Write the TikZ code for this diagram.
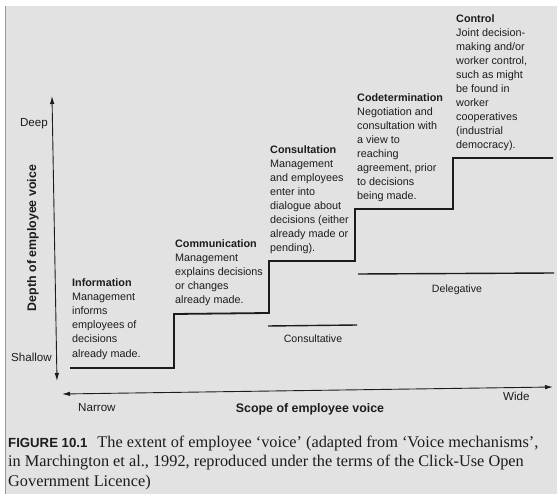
\documentclass[tikz,border=0pt]{standalone}
\usepackage{fontspec}
\setmainfont{Liberation Sans}
\newfontfamily\capserif{Liberation Serif}
\usepackage{tikz}
\usetikzlibrary{arrows.meta}
\usepackage{xcolor}
\definecolor{scangrey}{RGB}{226,226,226}
\definecolor{inkblack}{RGB}{28,28,28}

\begin{document}
\begin{tikzpicture}[x=1pt, y=-1pt, >={Latex[length=8pt,width=4.5pt]},
        blurb/.style={anchor=base west, align=left, inner sep=0pt, text=inkblack, font=\fontsize{10.8}{14.1}\selectfont},
        tag/.style={inner sep=0pt, text=inkblack, font=\fontsize{11.6}{14}\selectfont},
        axistitle/.style={inner sep=0pt, text=inkblack, font=\bfseries\fontsize{12.4}{14}\selectfont}]
        \useasboundingbox (0,0) rectangle (557,494);
        \fill[scangrey] (5,6) rectangle (557,494);
        \draw[black!40, line width=0.8pt] (5,6) -- (5,494);
        % axes
        \coordinate (deep) at (52,96);
        \coordinate (shallow) at (57,381);
        \coordinate (narrow) at (62,394);
        \coordinate (wide) at (553,387);
        \draw[<->, inkblack, line width=0.9pt] (deep) -- (shallow);
        \draw[<->, inkblack, line width=0.9pt] (narrow) -- (wide);
        \node[tag, anchor=base east] (DeepLabel) at (48,127) {Deep};
        \node[tag, anchor=base east] (ShallowLabel) at (52,361) {Shallow};
        \node[tag, anchor=base west] (NarrowLabel) at (78,411) {Narrow};
        \node[tag, anchor=base west] (WideLabel) at (503,400) {Wide};
        \node[axistitle, rotate=90] (DepthTitle) at (33,238) {Depth of employee voice};
        \node[axistitle, anchor=base] (ScopeTitle) at (310,412) {Scope of employee voice};
        % staircase
        \foreach \n/\x/\y in {0/70/368, 1/174/368, 2/174/314, 3/269/313, 4/269/261,
                5/355/261, 6/355/209, 7/453/209, 8/453/158, 9/553/158}{
        \coordinate (s\n) at (\x,\y);}
        \draw[inkblack, line width=1.8pt, line join=miter] (s0) -- (s1) -- (s2) -- (s3) -- (s4)
                -- (s5) -- (s6) -- (s7) -- (s8) -- (s9);
        % levels of voice (base = last line)
        \node[blurb] (Information) at (72,357) {\textbf{Information}\\Management\\informs\\employees of\\decisions\\already made.};
        \node[blurb] (Communication) at (175,304) {\textbf{Communication}\\Management\\explains decisions\\or changes\\already made.};
        \node[blurb] (Consultation) at (270,252) {\textbf{Consultation}\\Management\\and employees\\enter into\\dialogue about\\decisions (either\\already made or\\pending).};
        \node[blurb] (Codetermination) at (357,200) {\textbf{Codetermination}\\Negotiation and\\consultation with\\a view to\\reaching\\agreement, prior\\to decisions\\being made.};
        \node[blurb] (Control) at (456,149) {\textbf{Control}\\Joint decision-\\making and/or\\worker control,\\such as might\\be found in\\worker\\cooperatives\\(industrial\\democracy).};
        % consultative / delegative
        \coordinate (c0) at (268,326);
        \coordinate (c1) at (357,325);
        \coordinate (d0) at (358,274);
        \coordinate (d1) at (554,273);
        \draw[inkblack, line width=1.4pt] (c0) -- (c1);
        \draw[inkblack, line width=1.4pt] (d0) -- (d1);
        \node[tag, anchor=base, font=\fontsize{10.6}{13}\selectfont] (Consultative) at (313,342) {Consultative};
        \node[tag, anchor=base, font=\fontsize{10.6}{13}\selectfont] (Delegative) at (457,293) {Delegative};
        % caption
        \node[anchor=base west, align=left, inner sep=0pt, text=inkblack, font=\capserif\fontsize{16.3}{19.5}\selectfont] (Caption) at (8,486)
                {{\rmfamily\bfseries\fontsize{13.2}{14}\selectfont FIGURE 10.1}\hspace{10pt}The extent of employee ‘voice’ (adapted from ‘Voice mechanisms’,\\
                in Marchington et al., 1992, reproduced under the terms of the Click-Use Open\\
                Government Licence)};
\end{tikzpicture}
\end{document}
